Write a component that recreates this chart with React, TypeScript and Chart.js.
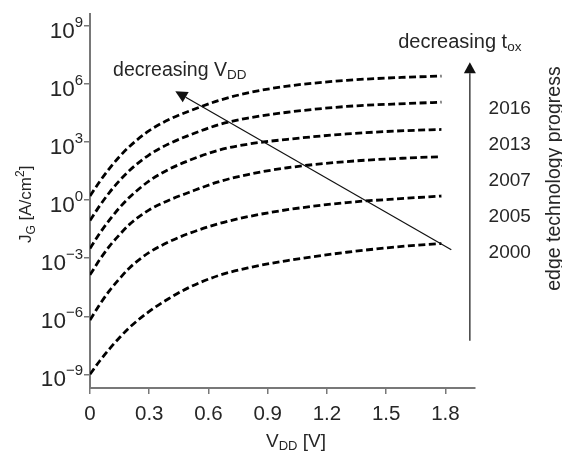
import React, { useEffect, useRef } from 'react';
import { Chart, registerables } from 'chart.js';

Chart.register(...registerables);

// ---------- data (log10 of J_G in A/cm^2) ----------
const vdd = [0, 0.05, 0.1, 0.15, 0.2, 0.3, 0.4, 0.5, 0.65, 0.8, 1.0, 1.3, 1.6, 1.78];
const logJ_a = [0.22, 0.98, 1.66, 2.26, 2.78, 3.6, 4.17, 4.6, 5.15, 5.55, 5.9, 6.2, 6.36, 6.42];
const logJ_b = [-1.05, -0.27, 0.42, 1.02, 1.54, 2.35, 2.92, 3.35, 3.9, 4.25, 4.55, 4.85, 5.0, 5.07];
const logJ_c = [-2.5, -1.7, -1.0, -0.38, 0.15, 1.0, 1.6, 2.05, 2.58, 2.9, 3.15, 3.43, 3.6, 3.66];
const logJ_d = [-3.86, -3.06, -2.36, -1.78, -1.25, -0.5, 0.0, 0.4, 0.95, 1.33, 1.68, 2.0, 2.18, 2.25];
const logJ_e = [-6.2, -5.38, -4.66, -4.05, -3.5, -2.7, -2.15, -1.72, -1.22, -0.85, -0.49, -0.12, 0.1, 0.22];
const logJ_f = [-9.0, -8.3, -7.67, -7.1, -6.58, -5.75, -5.08, -4.52, -3.9, -3.5, -3.12, -2.69, -2.37, -2.24];
const seriesList = [logJ_a, logJ_b, logJ_c, logJ_d, logJ_e, logJ_f];

const xTicks = [0, 0.3, 0.6, 0.9, 1.2, 1.5, 1.8];
const xTickLabels = ['0', '0.3', '0.6', '0.9', '1.2', '1.5', '1.8'];
const yTickExponents = [-9, -6, -3, 0, 3, 6, 9];
const years = ['2016', '2013', '2007', '2005', '2000'];
const yearLogs = [4.46, 2.59, 0.73, -1.13, -3.0];

const X_MIN = 0;
const X_MAX = 1.95;
const Y_MIN_EXP = -9.71;
const Y_MAX_EXP = 9.61;

// annotation anchors in data coordinates [V, log10 J]
const vddArrowTip = [0.432, 5.64];
const vddArrowTail = [1.83, -2.56];
const vddTextAt = [0.117, 6.43];
const toxArrowTip = [1.924, 7.13];
const toxArrowTail = [1.924, -7.27];
const toxTextAt = [1.561, 7.88];
const yearX = 2.019;
const sideTextAt = [2.378, 1.12];

const FONT = '"Liberation Sans", Arial, Helvetica, sans-serif';
const TEXT = '#262626';
const AXIS = '#787878';

function drawRich(ctx: CanvasRenderingContext2D, x: number, y: number, parts: { t: string; size: number; dy: number }[]) {
  let cx = x;
  ctx.textAlign = 'left';
  ctx.textBaseline = 'alphabetic';
  for (const p of parts) {
    ctx.font = `${p.size}px ${FONT}`;
    ctx.fillText(p.t, cx, y + p.dy);
    cx += ctx.measureText(p.t).width;
  }
}

function arrow(ctx: CanvasRenderingContext2D, x1: number, y1: number, x2: number, y2: number, len: number, half: number) {
  const ang = Math.atan2(y2 - y1, x2 - x1);
  const bx = x2 - len * Math.cos(ang);
  const by = y2 - len * Math.sin(ang);
  ctx.beginPath();
  ctx.moveTo(x1, y1);
  ctx.lineTo(bx, by);
  ctx.stroke();
  ctx.beginPath();
  ctx.moveTo(x2, y2);
  ctx.lineTo(bx + half * Math.sin(ang), by - half * Math.cos(ang));
  ctx.lineTo(bx - half * Math.sin(ang), by + half * Math.cos(ang));
  ctx.closePath();
  ctx.fill();
}

const annotPlugin = {
  id: 'annot',
  afterDraw(chart: any) {
    const ctx: CanvasRenderingContext2D = chart.ctx;
    const xs = chart.scales.x;
    const ys = chart.scales.y;
    const px = (v: number) => xs.getPixelForValue(v);
    const py = (l: number) => ys.getPixelForValue(Math.pow(10, l));
    ctx.save();
    ctx.fillStyle = TEXT;

    // y tick labels 10^n
    ys.ticks.forEach((t: any) => {
      const yy = ys.getPixelForValue(t.value);
      const e = Math.round(Math.log10(t.value));
      const es = e < 0 ? '\u2212' + String(-e) : String(e);
      ctx.textBaseline = 'alphabetic';
      ctx.textAlign = 'right';
      ctx.font = `15px ${FONT}`;
      const right = 83;
      ctx.fillText(es, right, yy + 1);
      const w = ctx.measureText(es).width;
      ctx.font = `22.5px ${FONT}`;
      ctx.fillText('10', right - w, yy + 12);
    });

    // x title
    drawRich(ctx, 266, 447, [
      { t: 'V', size: 19, dy: 0 },
      { t: 'DD', size: 13, dy: 3 },
      { t: ' [V]', size: 19, dy: 0 },
    ]);

    // y title (rotated)
    ctx.save();
    ctx.translate(31, 243);
    ctx.rotate(-Math.PI / 2);
    drawRich(ctx, 0, 0, [
      { t: 'J', size: 17, dy: 0 },
      { t: 'G', size: 12, dy: 3.5 },
      { t: ' [A/cm', size: 17, dy: 0 },
      { t: '2', size: 12, dy: -7 },
      { t: ']', size: 17, dy: 0 },
    ]);
    ctx.restore();

    // decreasing VDD
    drawRich(ctx, px(vddTextAt[0]), py(vddTextAt[1]), [
      { t: 'decreasing V', size: 19.5, dy: 0 },
      { t: 'DD', size: 13.5, dy: 3.5 },
    ]);
    ctx.strokeStyle = '#111';
    ctx.fillStyle = '#111';
    ctx.lineWidth = 1.2;
    arrow(ctx, px(vddArrowTail[0]), py(vddArrowTail[1]), px(vddArrowTip[0]), py(vddArrowTip[1]), 12, 6);

    // decreasing tox
    ctx.fillStyle = TEXT;
    drawRich(ctx, px(toxTextAt[0]), py(toxTextAt[1]), [
      { t: 'decreasing t', size: 20, dy: 0 },
      { t: 'ox', size: 13.5, dy: 3 },
    ]);
    ctx.fillStyle = '#111';
    arrow(ctx, px(toxArrowTail[0]), py(toxArrowTail[1]), px(toxArrowTip[0]), py(toxArrowTip[1]), 11, 6);

    // years
    ctx.fillStyle = TEXT;
    ctx.font = `19px ${FONT}`;
    ctx.textAlign = 'left';
    years.forEach((yr, i) => {
      ctx.fillText(yr, px(yearX), py(yearLogs[i]));
    });

    // side text
    ctx.save();
    ctx.translate(px(sideTextAt[0]), py(sideTextAt[1]));
    ctx.rotate(-Math.PI / 2);
    ctx.textAlign = 'center';
    ctx.textBaseline = 'alphabetic';
    ctx.font = `19.5px ${FONT}`;
    ctx.fillText('edge technology progress', 0, 0);
    ctx.restore();

    ctx.restore();
  },
};

export default function App() {
  const ref = useRef<HTMLCanvasElement | null>(null);
  useEffect(() => {
    document.body.style.margin = '0';
    const canvas = ref.current;
    if (!canvas) return;
    const datasets = seriesList.map((s, i) => ({
      label: 'curve ' + (i + 1),
      data: vdd.map((v, k) => ({ x: v, y: Math.pow(10, s[k]) })),
      borderColor: '#000',
      borderWidth: 2.8,
      borderDash: [7, 3.5],
      pointRadius: 0,
      fill: false,
      cubicInterpolationMode: 'monotone' as const,
    }));
    const chart = new Chart(canvas, {
      type: 'line',
      data: { datasets },
      options: {
        animation: false,
        responsive: false,
        maintainAspectRatio: false,
        layout: { padding: { left: 0, top: 8, right: 87, bottom: 0 } },
        plugins: { legend: { display: false }, tooltip: { enabled: false } },
        scales: {
          x: {
            type: 'linear',
            min: X_MIN,
            max: X_MAX,
            afterBuildTicks: (s: any) => {
              s.ticks = xTicks.map((v) => ({ value: v }));
            },
            afterFit: (s: any) => {
              s.height = 64;
            },
            ticks: {
              autoSkip: false,
              maxRotation: 0,
              padding: 8,
              color: TEXT,
              font: { family: FONT, size: 20.5 },
              callback: (_v: any, i: number) => xTickLabels[i],
            },
            grid: { drawOnChartArea: false, drawTicks: true, tickLength: 6, color: AXIS, lineWidth: 1.5 },
            border: { display: true, color: AXIS, width: 2 },
          },
          y: {
            type: 'logarithmic',
            min: Math.pow(10, Y_MIN_EXP),
            max: Math.pow(10, Y_MAX_EXP),
            afterBuildTicks: (s: any) => {
              s.ticks = yTickExponents.map((e) => ({ value: Math.pow(10, e) }));
            },
            afterFit: (s: any) => {
              s.width = 90;
            },
            ticks: { callback: () => '', font: { family: FONT, size: 19 } },
            grid: { drawOnChartArea: false, drawTicks: true, tickLength: 6, color: AXIS, lineWidth: 1.5 },
            border: { display: true, color: AXIS, width: 2 },
          },
        },
      },
      plugins: [annotPlugin],
    });
    return () => chart.destroy();
  }, []);
  return <canvas ref={ref} width={562} height={452} style={{ display: 'block' }} />;
}
